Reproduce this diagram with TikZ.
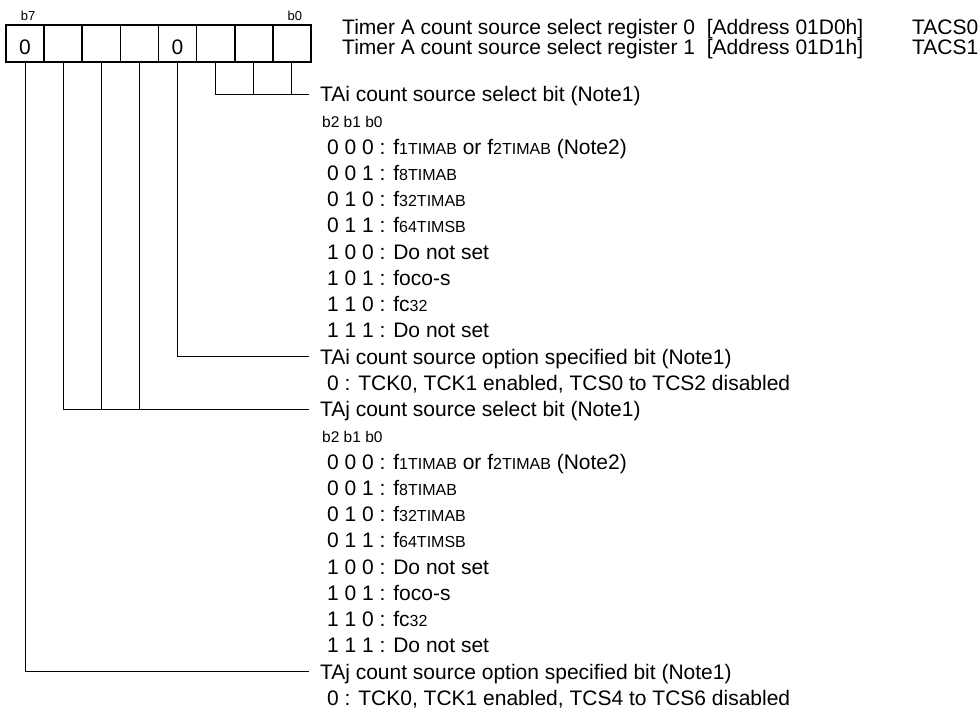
\documentclass[tikz,border=0pt]{standalone}
\usepackage{fontspec}
\setmainfont{Liberation Sans}
\usepackage{tikz}
\usetikzlibrary{positioning}
\newcommand{\fsmain}{\fontsize{21}{26}\selectfont}
\newcommand{\fsbits}{\fontsize{15.5}{18}\selectfont}
\newcommand{\fstop}{\fontsize{13}{15}\selectfont}
\newcommand{\smf}[1]{{\fontsize{16}{18}\selectfont #1}}
\tikzset{
  bitcell/.style={draw,line width=1.6pt,minimum width=38.125pt,minimum height=37pt,
    inner sep=0pt,font=\fsmain,text height=22pt,text depth=0pt},
  toplbl/.style={inner sep=0pt,font=\fstop},
  hdr/.style={anchor=west,inner sep=0pt,font=\fsmain,text height=15pt,text depth=0pt},
  fieldhd/.style={anchor=west,inner sep=0pt,outer xsep=11pt,font=\fsmain,
    text height=15pt,text depth=0pt},
  fielditem/.style={anchor=west,inner sep=0pt,font=\fsmain,text height=15pt,text depth=0pt},
  bitsrow/.style={anchor=west,inner sep=0pt,font=\fsbits,text height=15pt,text depth=0pt},
  conn/.style={line width=0.9pt},
}

\begin{document}
\begin{tikzpicture}[x=1pt,y=-1pt]
\useasboundingbox (0,0) rectangle (980,717);
% register cells, b7 on the left
\foreach \b/\v in {7/0,6/{},5/{},4/{},3/0,2/{},1/{},0/{}}
  \node[bitcell] (c\b) at ({25.06+38.125*(7-\b)},43.5) {\v};
\node[toplbl,above=3pt of c7,xshift=3pt] (lb7) {b7};
\node[toplbl,above=3pt of c0,xshift=3pt] (lb0) {b0};

\node[hdr] (reg0) at (342,27) {Timer A count source select register 0\hspace{6pt} [Address 01D0h]};
\node[hdr] (reg1) at (342,47) {Timer A count source select register 1\hspace{6pt} [Address 01D1h]};
\node[hdr] (sym0) at (912,27) {TACS0};
\node[hdr] (sym1) at (912,47) {TACS1};

% two groups: TAi (b3..b0) and TAj (b7..b4)
\foreach \g/\r/\lo/\hi in {i/0/0/2,j/12/4/6} {
  \node[fieldhd] (hd\g) at (309,{94+26.25*\r}) {TA\g\ count source select bit (Note1)};
  \node[bitsrow] (bits\g) at (322,{94+26.25*(\r+1)}) {b2 b1 b0};
  \foreach \t [count=\k] in {{0 0 0 : f\smf{1TIMAB} or f\smf{2TIMAB} (Note2)},
      {0 0 1 : f\smf{8TIMAB}},{0 1 0 : f\smf{32TIMAB}},{0 1 1 : f\smf{64TIMSB}},
      {1 0 0 : Do not set},{1 0 1 : foco-s},{1 1 0 : fc\smf{32}},{1 1 1 : Do not set}}
    \node[fielditem] (it\g\k) at (327,{94+26.25*(\r+1+\k)}) {\t};
  \node[fieldhd] (opt\g) at (309,{94+26.25*(\r+10)}) {TA\g\ count source option specified bit (Note1)};
  \node[fielditem] (tck\g) at (327,{94+26.25*(\r+11)}) {0 : TCK0, TCK1 enabled, TCS\lo\ to TCS\hi\ disabled};
}

\draw[conn] (c2.south) |- (hdi.west);
\draw[conn] (c1.south) -- (c1.south |- hdi.west);
\draw[conn] (c0.south) -- (c0.south |- hdi.west);
\draw[conn] (c3.south) |- (opti.west);
\draw[conn] (c6.south) |- (hdj.west);
\draw[conn] (c5.south) -- (c5.south |- hdj.west);
\draw[conn] (c4.south) -- (c4.south |- hdj.west);
\draw[conn] (c7.south) |- (optj.west);
\end{tikzpicture}
\end{document}
